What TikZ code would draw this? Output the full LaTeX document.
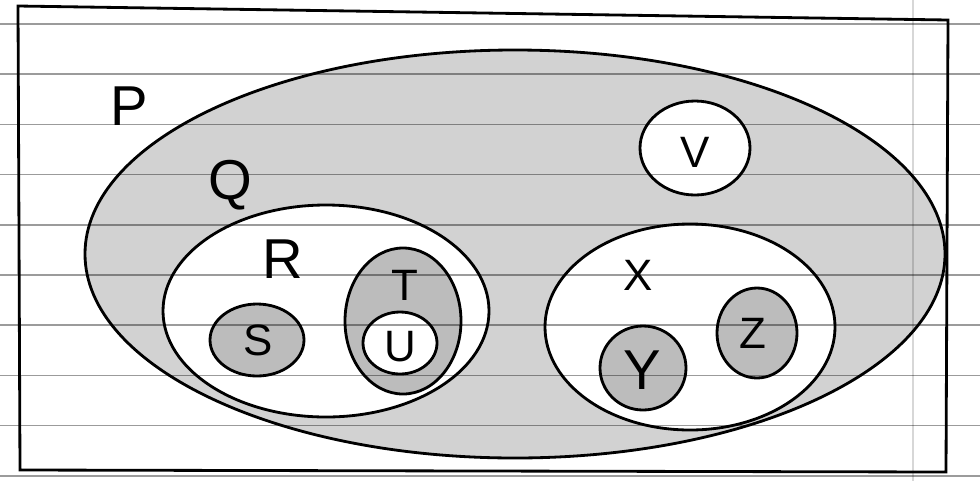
\documentclass[tikz,border=0pt]{standalone}
\usepackage{fontspec}
\setsansfont{Liberation Sans}
\usetikzlibrary{positioning}
\definecolor{lead}{RGB}{210, 210, 210}
\definecolor{leaddark}{RGB}{188, 188, 188}
\definecolor{rule}{RGB}{155, 155, 155}

\begin{document}
\begin{tikzpicture}[x=0.02cm, y=-0.02cm,
        setline/.style={line width=1.6pt, black},
        shaded/.style={setline, fill=lead},
        dark/.style={setline, fill=leaddark},
        hole/.style={setline, fill=white},
        ruled/.style={rule, line width=0.9pt},
        big/.style={font=\sffamily\fontsize{32}{32}\selectfont},
        small/.style={font=\sffamily\fontsize{25}{25}\selectfont}
      ]
        \useasboundingbox[fill=white] (0,0) rectangle (980,481);
        % sets, outer to inner
        \draw[setline] (18,6) -- (948,20) -- (946,472) -- (20,470) -- cycle;
        \draw[shaded] (515,254) ellipse [x radius=430, y radius=204];
        \draw[hole] (326,311) ellipse [x radius=163, y radius=106];
        \draw[dark] (257,340) ellipse [x radius=47, y radius=36];
        \draw[dark] (403,321) ellipse [x radius=58, y radius=73];
        \draw[hole] (400,343) ellipse [x radius=37, y radius=31];
        \draw[hole] (695,148) ellipse [x radius=55, y radius=47];
        \draw[hole] (690,327) ellipse [x radius=145, y radius=103];
        \draw[dark] (643,368) ellipse [x radius=43, y radius=42];
        \draw[dark] (757,333) ellipse [x radius=40, y radius=45];
        % paper lines
        \begin{scope}[blend mode=multiply]
          \foreach \k in {0,...,9} { \draw[ruled] (0,24+50.2*\k) -- (980,24+50.2*\k); }
          \draw[rule!40, line width=0.8pt] (913,0) -- (913,481);
        \end{scope}
        % labels
        \node[big] (p) at (129,106) {P};
        \node[big] (q) at (230,185) {Q};
        \node[big] (r) at (283,259) {R};
        \node[small] (s) at (258,340) {S};
        \node[small] (t) at (405,285) {T};
        \node[small] (u) at (400,347) {U};
        \node[small] (v) at (695,152) {V};
        \node[small] (x) at (638,275) {X};
        \node[big] (y) at (642,370) {Y};
        \node[small] (z) at (753,333) {Z};
      \end{tikzpicture}
\end{document}
